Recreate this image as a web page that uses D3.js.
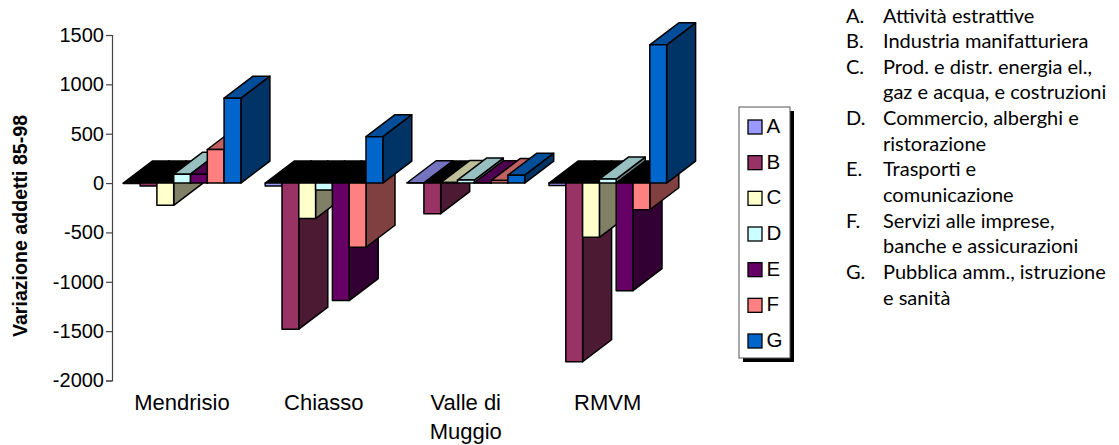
<!DOCTYPE html>
<html>
<head>
<meta charset="utf-8">
<script src="https://cdn.jsdelivr.net/npm/d3@7"></script>
<style>
html,body{margin:0;padding:0;background:#fff}
svg{display:block}
</style>
</head>
<body>
<svg id="chart" width="1119" height="445"></svg>
<script>
const places = ["Mendrisio", "Chiasso", "Valle di|Muggio", "RMVM"];
const seriesKeys = ["A", "B", "C", "D", "E", "F", "G"];
const seriesA = [-5, -30, 3, -25];
const seriesB = [-30, -1480, -310, -1810];
const seriesC = [-225, -360, 5, -550];
const seriesD = [90, -70, 30, 40];
const seriesE = [90, -1190, 3, -1090];
const seriesF = [340, -650, 25, -270];
const seriesG = [860, 470, 80, 1400];
const seriesValues = [seriesA, seriesB, seriesC, seriesD, seriesE, seriesF, seriesG];
const yTicks = [1500, 1000, 500, 0, -500, -1000, -1500, -2000];

const frontColors = ["#9999ff", "#993366", "#ffffcc", "#ccffff", "#660066", "#ff8080", "#0066cc"];
const topColors = ["#7373c0", "#732650", "#bfbf99", "#99c0c0", "#4d004d", "#c06060", "#004d99"];
const sideColors = ["#4d4d80", "#4d1a33", "#808066", "#668080", "#330033", "#804040", "#003366"];

const notes = [
  ["A.", "Attività estrattive"],
  ["B.", "Industria manifatturiera"],
  ["C.", "Prod. e distr. energia el.,"],
  ["", "gaz e acqua, e costruzioni"],
  ["D.", "Commercio, alberghi e"],
  ["", "ristorazione"],
  ["E.", "Trasporti e"],
  ["", "comunicazione"],
  ["F.", "Servizi alle imprese,"],
  ["", "banche e assicurazioni"],
  ["G.", "Pubblica amm., istruzione"],
  ["", "e sanità"]
];

const svg = d3.select("#chart");
const sansFont = "'Liberation Sans', Arial, sans-serif";
const depthX = 29, depthY = 22;

const y = d3.scaleLinear().domain([-2000, 1500]).range([380.5, 35]);
const x0 = d3.scaleBand().domain(places).range([112, 679.6]).paddingInner(0).paddingOuter(0);
const x1 = d3.scaleBand().domain(seriesKeys).range([11.3, 128.9]);

// 3D columns: side face, then cap, then front face, left to right so later bars overlap earlier ones
const bars = svg.append("g").attr("stroke", "#000").attr("stroke-width", 1.5).attr("stroke-linejoin", "round");
const poly = pts => pts.map(p => p.join(",")).join(" ");

places.forEach((place, pi) => {
  seriesKeys.forEach((key, si) => {
    const v = seriesValues[si][pi];
    const xl = x0(place) + x1(key);
    const xr = xl + x1.bandwidth();
    const yBase = y(0), yVal = y(v);
    const yTop = Math.min(yBase, yVal), yBot = Math.max(yBase, yVal);
    bars.append("polygon")
      .attr("points", poly([[xr, yTop], [xr + depthX, yTop - depthY], [xr + depthX, yBot - depthY], [xr, yBot]]))
      .attr("fill", sideColors[si]);
    bars.append("polygon")
      .attr("points", poly([[xl, yTop], [xr, yTop], [xr + depthX, yTop - depthY], [xl + depthX, yTop - depthY]]))
      .attr("fill", v < 0 ? "#000" : topColors[si]);
    bars.append("rect")
      .attr("x", xl).attr("y", yTop)
      .attr("width", xr - xl).attr("height", yBot - yTop)
      .attr("fill", frontColors[si]);
  });
});

// Value axis
const axis = svg.append("g").attr("transform", "translate(112,0)")
  .call(d3.axisLeft(y).tickValues(yTicks).tickSize(6).tickPadding(2).tickFormat(d => String(d)));
axis.selectAll("path,line").attr("stroke", "#444").attr("stroke-width", 1.2);
axis.selectAll("text").attr("font-family", sansFont).attr("font-size", 20).attr("fill", "#000");

svg.append("text")
  .attr("transform", "translate(27,226) rotate(-90)")
  .attr("text-anchor", "middle")
  .attr("font-family", sansFont).attr("font-size", 19.6).attr("font-weight", "bold")
  .text("Variazione addetti 85-98");

// Category labels, split on | into stacked lines
places.forEach(place => {
  place.split("|").forEach((line, i) => {
    svg.append("text")
      .attr("x", x0(place) + x0.bandwidth() / 2 - 1)
      .attr("y", 410 + i * 29)
      .attr("text-anchor", "middle")
      .attr("font-family", sansFont).attr("font-size", 22)
      .text(line);
  });
});

// Legend box with hard drop shadow
const lg = svg.append("g");
lg.append("rect").attr("x", 743).attr("y", 111).attr("width", 51).attr("height", 251).attr("fill", "#000");
lg.append("rect").attr("x", 739).attr("y", 107).attr("width", 51).attr("height", 251)
  .attr("fill", "#fff").attr("stroke", "#555").attr("stroke-width", 1);
const legendY = d3.scalePoint().domain(seriesKeys).range([127, 341]);
seriesKeys.forEach((key, i) => {
  lg.append("rect")
    .attr("x", 748).attr("y", legendY(key) - 7).attr("width", 14).attr("height", 14)
    .attr("fill", frontColors[i]).attr("stroke", "#000").attr("stroke-width", 1.3);
  lg.append("text")
    .attr("x", 766.5).attr("y", legendY(key) + 6)
    .attr("font-family", sansFont).attr("font-size", 20.5)
    .text(key);
});

// Sector key at the right
const noteY = d3.scaleLinear().domain([0, notes.length - 1]).range([22.5, 304.5]);
notes.forEach((row, i) => {
  const g = svg.append("g").attr("font-family", "Lato, 'Open Sans', sans-serif").attr("font-size", 20).attr("fill", "#000");
  g.append("text").attr("x", 846).attr("y", noteY(i)).text(row[0]);
  g.append("text").attr("x", 883).attr("y", noteY(i)).text(row[1]);
});
</script>
</body>
</html>
